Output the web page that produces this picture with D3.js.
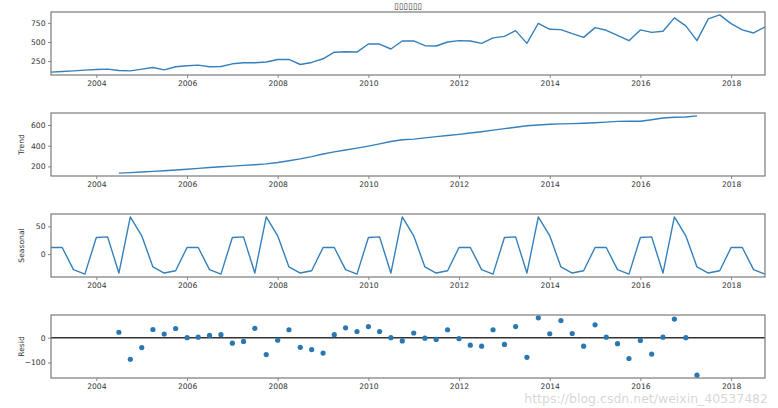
<!DOCTYPE html>
<html>
<head>
<meta charset="utf-8">
<script src="https://cdn.jsdelivr.net/npm/d3@7"></script>
<style>
  html, body { margin: 0; padding: 0; background: #fff; }
  svg { display: block; }
  .tick text { font-family: "DejaVu Sans", sans-serif; }
</style>
</head>
<body>
<div id="chart"></div>
<script>
// ---------------- data ----------------
const titleText = "\u25AF\u25AF\u25AF\u25AF\u25AF\u25AF";
const watermark = "https://blog.csdn.net/weixin_40537482";

// quarterly index 2003Q1 .. 2018Q4
const quarters = d3.timeMonth.range(new Date(2003, 0, 1), new Date(2018, 10, 1), 3);

const observed = [
  105, 113, 122, 131,
  139, 144, 126, 122,
  144, 166, 135, 175,
  188, 197, 175, 179,
  214, 228, 228, 237,
  271, 271, 205, 232,
  280, 366, 372, 368,
  473, 473, 408, 513,
  513, 451, 447, 500,
  517, 513, 482, 553,
  574, 649, 482, 745,
  666, 662, 609, 560,
  688, 653, 587, 517,
  658, 626, 640, 816,
  710, 517, 803, 855,
  741, 658, 618, 697
];

// trend and resid exist from 2004Q3 to 2017Q2
const trendStart = 6;
const trend = [
  135, 140,
  146, 152, 158, 165,
  173, 181, 189, 196,
  203, 210, 216, 224,
  238, 255, 273, 294,
  320, 340, 358, 376,
  396, 417, 440, 457,
  463, 476, 488, 498,
  509, 522, 535, 550,
  565, 578, 592, 600,
  607, 611, 613, 616,
  621, 628, 635, 636,
  636, 651, 668, 674,
  677, 688
];

const seasonalPattern = [12, 12, -28, -36, 30, 31, -34, 67, 33, -23, -34, -30];
const seasonal = quarters.map((d, i) => seasonalPattern[i % 12]);

const resid = [
  22, -87,
  -40, 33, 15, 37,
  0, 2, 9, 12,
  -22, -15, 38, -68,
  -10, 32, -39, -48,
  -62, 12, 40, 25,
  45, 25, 0, -13,
  19, -2, -7, 32,
  -4, -30, -34, 32,
  -27, 45, -79, 80,
  16, 69, 17, -34,
  52, 2, -24, -84,
  -11, -66, 2, 75,
  0, -151
];

const yearTicks = [2004, 2006, 2008, 2010, 2012, 2014, 2016, 2018];
const obsTicks = [250, 500, 750];
const trendTicks = [200, 400, 600];
const seasTicks = [0, 50];
const residTicks = [-100, 0];

// ---------------- layout ----------------
const W = 778, H = 408;
const left = 51, right = 765;
const panelTops = [12, 113, 214, 315];
const panelH = 63;
const lineColor = "#3580bb";
const spineColor = "#7a7a7a";
const textColor = "#333";

const svg = d3.select("#chart").append("svg")
  .attr("width", W).attr("height", H);

const x = d3.scaleTime()
  .domain(d3.extent(quarters))
  .range([left, right]);

function padDomain(vals) {
  const [lo, hi] = d3.extent(vals);
  const m = (hi - lo) * 0.05;
  return [lo - m, hi + m];
}

const panels = [
  { key: "obs", label: null, data: quarters.map((d, i) => ({ d, v: observed[i] })), ticks: obsTicks, type: "line" },
  { key: "trend", label: "Trend", data: trend.map((v, i) => ({ d: quarters[i + trendStart], v })), ticks: trendTicks, type: "line" },
  { key: "seas", label: "Seasonal", data: quarters.map((d, i) => ({ d, v: seasonal[i] })), ticks: seasTicks, type: "line" },
  { key: "resid", label: "Resid", data: resid.map((v, i) => ({ d: quarters[i + trendStart], v })), ticks: residTicks, type: "dots" }
];

panels.forEach((p, idx) => {
  const top = panelTops[idx];
  const bottom = top + panelH;
  const y = d3.scaleLinear().domain(padDomain(p.data.map(o => o.v))).range([bottom, top]);

  const g = svg.append("g");

  const clipId = "clip" + idx;
  svg.append("clipPath").attr("id", clipId)
    .append("rect").attr("x", left).attr("y", top).attr("width", right - left).attr("height", panelH);

  if (p.type === "line") {
    g.append("path")
      .datum(p.data)
      .attr("clip-path", `url(#${clipId})`)
      .attr("fill", "none")
      .attr("stroke", lineColor)
      .attr("stroke-width", 1.4)
      .attr("stroke-linejoin", "round")
      .attr("d", d3.line().x(o => x(o.d)).y(o => y(o.v)));
  } else {
    g.append("line")
      .attr("x1", left).attr("x2", right)
      .attr("y1", y(0)).attr("y2", y(0))
      .attr("stroke", "#333").attr("stroke-width", 1.4);
    g.append("g").attr("clip-path", `url(#${clipId})`)
      .selectAll("circle").data(p.data).join("circle")
      .attr("cx", o => x(o.d)).attr("cy", o => y(o.v))
      .attr("r", 2.6).attr("fill", "#2a78b2");
  }

  const xAxis = d3.axisBottom(x)
    .tickValues(yearTicks.map(yr => new Date(yr, 0, 1)))
    .tickFormat(d3.timeFormat("%Y"))
    .tickSize(3).tickPadding(2.5);
  const xg = g.append("g").attr("transform", `translate(0,${bottom})`).call(xAxis);

  const yAxis = d3.axisLeft(y)
    .tickValues(p.ticks)
    .tickFormat(v => (v < 0 ? "\u2212" + Math.abs(v) : String(v)))
    .tickSize(3).tickPadding(2.5);
  const yg = g.append("g").attr("transform", `translate(${left},0)`).call(yAxis);

  [xg, yg].forEach(a => {
    a.select(".domain").remove();
    a.selectAll(".tick line").attr("stroke", spineColor).attr("stroke-width", 0.9);
    a.selectAll(".tick text").attr("fill", textColor).attr("font-size", "7.6px");
  });

  g.append("rect")
    .attr("x", left).attr("y", top)
    .attr("width", right - left).attr("height", panelH)
    .attr("fill", "none").attr("stroke", spineColor).attr("stroke-width", 1.2);

  if (p.label) {
    g.append("text")
      .attr("transform", `translate(24,${top + panelH / 2}) rotate(-90)`)
      .attr("text-anchor", "middle")
      .attr("font-family", "DejaVu Sans, sans-serif")
      .attr("font-size", "7.6px")
      .attr("fill", textColor)
      .text(p.label);
  }
});

// title
svg.append("text")
  .attr("x", (left + right) / 2).attr("y", 8.5)
  .attr("text-anchor", "middle")
  .attr("font-family", "DejaVu Sans, sans-serif")
  .attr("font-size", "8.5px")
  .attr("fill", "#333")
  .text(titleText);

// watermark
svg.append("text")
  .attr("x", 768).attr("y", 402.5)
  .attr("text-anchor", "end")
  .attr("font-family", "DejaVu Sans, sans-serif")
  .attr("font-size", "12.5px")
  .attr("fill", "#cfcfcf")
  .attr("fill-opacity", 0.85)
  .text(watermark);
</script>
</body>
</html>
